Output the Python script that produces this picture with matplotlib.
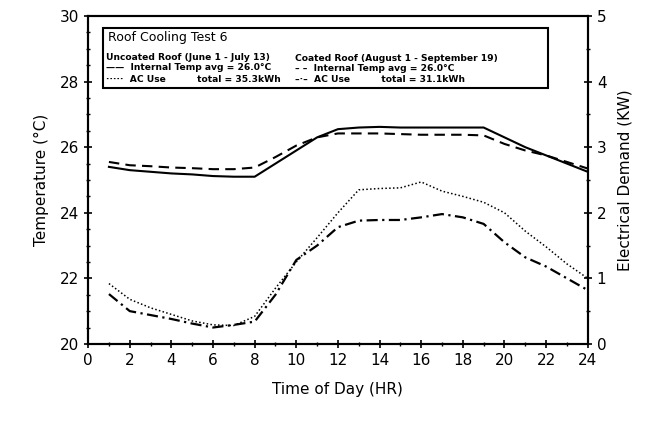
import matplotlib
matplotlib.use("Agg")
import matplotlib.pyplot as plt
from matplotlib.patches import Rectangle

hours = list(range(1, 25))
temp_uncoated = [25.4, 25.3, 25.25, 25.2, 25.17, 25.12, 25.1, 25.1, 25.5, 25.9, 26.3, 26.55,
                 26.6, 26.62, 26.6, 26.6, 26.6, 26.6, 26.6, 26.3, 26.0, 25.75, 25.5, 25.25]
temp_coated = [25.55, 25.45, 25.42, 25.38, 25.36, 25.33, 25.33, 25.38, 25.7, 26.05, 26.3, 26.42,
               26.42, 26.42, 26.4, 26.38, 26.38, 26.38, 26.36, 26.1, 25.9, 25.75, 25.55, 25.35]
ac_uncoated = [0.92, 0.68, 0.55, 0.45, 0.35, 0.29, 0.28, 0.42, 0.85, 1.25, 1.62, 2.0,
               2.35, 2.37, 2.38, 2.47, 2.33, 2.25, 2.16, 2.0, 1.72, 1.48, 1.22, 1.0]
ac_coated = [0.76, 0.50, 0.44, 0.38, 0.31, 0.25, 0.29, 0.34, 0.75, 1.28, 1.50, 1.78,
             1.88, 1.89, 1.89, 1.93, 1.98, 1.93, 1.83, 1.55, 1.32, 1.18, 1.00, 0.82]

xticks = list(range(0, 25, 2))
yticks_left = [20, 22, 24, 26, 28, 30]
yticks_right = [0, 1, 2, 3, 4, 5]

plt.rcParams['font.family'] = ['DejaVu Sans']
fig = plt.figure(figsize=(6.48, 4.23), dpi=100)
ax = fig.add_axes([0.136, 0.187, 0.771, 0.775])
ax2 = ax.twinx()

ax.plot(hours, temp_uncoated, color='black', lw=1.5, ls='-')
ax.plot(hours, temp_coated, color='black', lw=1.5, ls=(0, (5, 3)))
ax2.plot(hours, ac_uncoated, color='black', lw=1.1, ls=(0, (1, 1.5)))
ax2.plot(hours, ac_coated, color='black', lw=1.6, ls=(0, (5, 2, 1, 2)))

ax.set_xlim(0, 24)
ax.set_ylim(20, 30)
ax2.set_ylim(0, 5)
ax.set_xticks(xticks)
ax.set_yticks(yticks_left)
ax2.set_yticks(yticks_right)
ax.set_xticks(range(0, 25), minor=True)
ax.set_yticks([20 + 0.5 * i for i in range(21)], minor=True)
ax2.set_yticks([0.5 * i for i in range(11)], minor=True)
for a in (ax, ax2):
    a.tick_params(which='major', length=6, width=1.2, direction='inout', labelsize=11)
    a.tick_params(which='minor', length=3, width=1, direction='inout')
    for s in a.spines.values():
        s.set_linewidth(1.5)
ax.set_xlabel('Time of Day (HR)', fontsize=11, labelpad=10)
ax.set_ylabel('Temperature (°C)', fontsize=11, labelpad=8)
ax2.set_ylabel('Electrical Demand (KW)', fontsize=11, labelpad=8)

# legend box
box = Rectangle((0.03, 0.78), 0.89, 0.183, transform=ax.transAxes,
                fill=False, lw=1.5, ec='black')
ax.add_patch(box)
fs = 6.6
ax.text(0.04, 0.935, 'Roof Cooling Test 6', transform=ax.transAxes, fontsize=9, va='center')
ax.text(0.035, 0.875, 'Uncoated Roof (June 1 - July 13)', transform=ax.transAxes, fontsize=fs, va='center', fontweight='bold')
ax.text(0.035, 0.842, '——  Internal Temp avg = 26.0°C', transform=ax.transAxes, fontsize=fs, va='center', fontweight='bold')
ax.text(0.035, 0.808, '·····  AC Use          total = 35.3kWh', transform=ax.transAxes, fontsize=fs, va='center', fontweight='bold')
ax.text(0.415, 0.872, 'Coated Roof (August 1 - September 19)', transform=ax.transAxes, fontsize=fs, va='center', fontweight='bold')
ax.text(0.415, 0.84, '– –  Internal Temp avg = 26.0°C', transform=ax.transAxes, fontsize=fs, va='center', fontweight='bold')
ax.text(0.415, 0.806, '–·–  AC Use          total = 31.1kWh', transform=ax.transAxes, fontsize=fs, va='center', fontweight='bold')

fig.savefig('out.png', dpi=100)
